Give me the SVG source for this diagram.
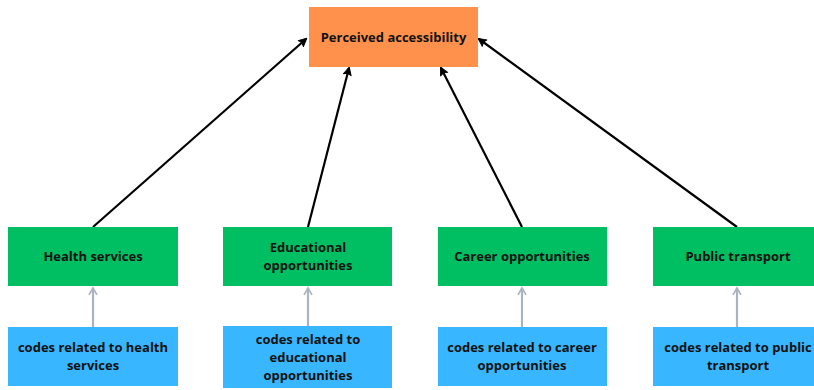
<svg xmlns="http://www.w3.org/2000/svg" width="814" height="390" viewBox="0 0 814 390">
  <style>
    text { font-family: "Open Sans", "Noto Sans", "Liberation Sans", sans-serif; font-weight: bold; font-size: 13px; fill: #111; text-anchor: middle; dominant-baseline: central; }
    .top { fill: #ff914d; }
    .cat { fill: #00bf63; }
    .code { fill: #38b6ff; }
    .link { stroke: #000; stroke-width: 2.2; fill: none; marker-end: url(#head); }
    .sub { stroke: #aab4bf; stroke-width: 2.2; fill: none; marker-end: url(#headGray); }
  </style>
  <defs>
    <marker id="head" viewBox="0 0 10 10" refX="8" refY="5" markerWidth="4.5" markerHeight="4.5" orient="auto" markerUnits="strokeWidth">
      <path d="M1,1 L9,5 L1,9 L2.5,5 Z" fill="#000" stroke="#000" stroke-width="1" stroke-linejoin="round"/>
    </marker>
    <marker id="headGray" viewBox="0 0 10 10" refX="8" refY="5" markerWidth="4.5" markerHeight="4.5" orient="auto" markerUnits="strokeWidth">
      <path d="M1,1 L8,5 L1,9" fill="none" stroke="#aab4bf" stroke-width="1.7" stroke-linejoin="miter"/>
    </marker>
  </defs>
  <rect width="814" height="390" fill="#fff"/>

  <g id="connectors">
    <line class="link" x1="93" y1="227" x2="306" y2="39"/>
    <line class="link" x1="308" y1="227" x2="349" y2="68"/>
    <line class="link" x1="522" y1="227" x2="441" y2="68"/>
    <line class="link" x1="737" y1="227" x2="479" y2="39"/>
    <line class="sub" x1="93" y1="327" x2="93" y2="288"/>
    <line class="sub" x1="308" y1="327" x2="308" y2="288"/>
    <line class="sub" x1="522" y1="327" x2="522" y2="288"/>
    <line class="sub" x1="737" y1="327" x2="737" y2="288"/>
  </g>

  <g id="perceived-accessibility">
    <rect class="top" x="309" y="7" width="169" height="60"/>
    <text x="393.5" y="37">Perceived accessibility</text>
  </g>

  <g id="health-services">
    <rect class="cat" x="8" y="227" width="170" height="59"/>
    <text x="93" y="256">Health services</text>
  </g>
  <g id="educational-opportunities">
    <rect class="cat" x="223" y="227" width="169" height="59"/>
    <text x="308" y="247">Educational</text>
    <text x="308" y="265">opportunities</text>
  </g>
  <g id="career-opportunities">
    <rect class="cat" x="438" y="227" width="169" height="59"/>
    <text x="522" y="256">Career opportunities</text>
  </g>
  <g id="public-transport">
    <rect class="cat" x="653" y="227" width="170" height="59"/>
    <text x="738" y="256">Public transport</text>
  </g>

  <g id="codes-health">
    <rect class="code" x="8" y="327" width="170" height="59"/>
    <text x="93" y="347">codes related to health</text>
    <text x="93" y="365">services</text>
  </g>
  <g id="codes-educational">
    <rect class="code" x="223" y="326" width="169" height="62"/>
    <text x="308" y="339">codes related to</text>
    <text x="308" y="357">educational</text>
    <text x="308" y="375">opportunities</text>
  </g>
  <g id="codes-career">
    <rect class="code" x="438" y="327" width="169" height="59"/>
    <text x="522" y="347">codes related to career</text>
    <text x="522" y="365">opportunities</text>
  </g>
  <g id="codes-public">
    <rect class="code" x="653" y="327" width="170" height="59"/>
    <text x="738" y="347">codes related to public</text>
    <text x="738" y="365">transport</text>
  </g>
</svg>
